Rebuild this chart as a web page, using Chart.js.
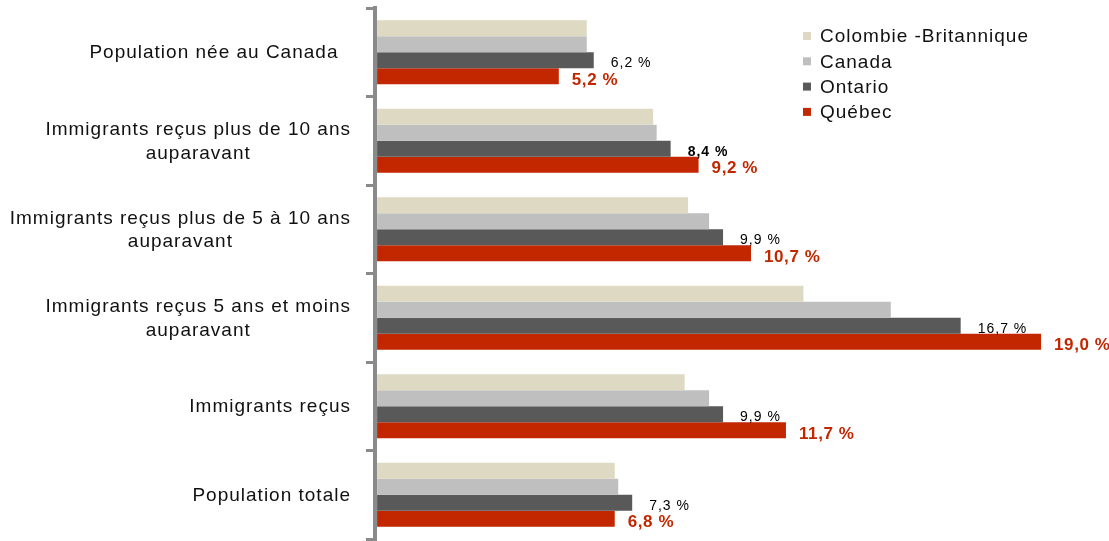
<!DOCTYPE html>
<html><head><meta charset="utf-8">
<script src="https://cdn.jsdelivr.net/npm/chart.js@4"></script>
<style>html,body{margin:0;padding:0;background:#fff}</style>
</head><body>
<canvas id="c" width="1109" height="541"></canvas>
<script>
const categories = [
  ["Population née au Canada  "],
  ["Immigrants reçus plus de 10 ans", "auparavant"],
  ["Immigrants reçus plus de 5 à 10 ans", "auparavant"],
  ["Immigrants reçus 5 ans et moins", "auparavant"],
  ["Immigrants reçus"],
  ["Population totale"]
];
const seriesNames = ["Colombie -Britannique", "Canada", "Ontario", "Québec"];
const colombieBritannique = [6.0, 7.9, 8.9, 12.2, 8.8, 6.8];
const canada = [6.0, 8.0, 9.5, 14.7, 9.5, 6.9];
const ontario = [6.2, 8.4, 9.9, 16.7, 9.9, 7.3];
const quebec = [5.2, 9.2, 10.7, 19.0, 11.7, 6.8];
const seriesColors = ['#DDD9C3', '#BFBFBF', '#595959', '#C22700'];
const ontarioBold = [false, true, false, false, false, false];

const FONT = '"Liberation Sans", Arial, sans-serif';

function fmt(v) { return v.toFixed(1).replace('.', ',') + ' %'; }

const categoryLabelsPlugin = {
  id: 'catLabels',
  afterDraw(chart) {
    const ctx = chart.ctx, y = chart.scales.y;
    ctx.save();
    ctx.font = '19px ' + FONT;
    ctx.letterSpacing = '1px';
    ctx.fillStyle = '#111';
    ctx.textAlign = 'center';
    ctx.textBaseline = 'middle';
    const right = y.right - 24;
    const lh = 23.3;
    chart.data.labels.forEach((lines, i) => {
      const cy = y.getPixelForValue(i);
      let w = 0;
      lines.forEach(l => { w = Math.max(w, ctx.measureText(l).width); });
      const cx = right - w / 2;
      lines.forEach((l, k) => {
        ctx.fillText(l, cx, cy + (k - (lines.length - 1) / 2) * lh + 1);
      });
    });
    ctx.restore();
  }
};

const valueLabelsPlugin = {
  id: 'valLabels',
  afterDatasetsDraw(chart) {
    const ctx = chart.ctx;
    ctx.save();
    ctx.textAlign = 'left';
    ctx.textBaseline = 'middle';
    [2, 3].forEach(di => {
      const meta = chart.getDatasetMeta(di);
      const ds = chart.data.datasets[di];
      meta.data.forEach((el, i) => {
        if (di === 2) {
          ctx.letterSpacing = '1px';
          ctx.font = (ontarioBold[i] ? 'bold ' : '') + '14px ' + FONT;
          ctx.fillStyle = '#000';
          ctx.fillText(fmt(ds.data[i]), el.x + 17, el.y + 3);
        } else {
          ctx.letterSpacing = '0.6px';
          ctx.font = 'bold 17px ' + FONT;
          ctx.fillStyle = seriesColors[3];
          ctx.fillText(fmt(ds.data[i]), el.x + 13, el.y + 4);
        }
      });
    });
    ctx.restore();
  }
};

const legendPlugin = {
  id: 'customLegend',
  afterDraw(chart) {
    const ctx = chart.ctx;
    ctx.save();
    ctx.font = '19px ' + FONT;
    ctx.letterSpacing = '1px';
    ctx.textAlign = 'left';
    ctx.textBaseline = 'middle';
    chart.data.datasets.forEach((ds, i) => {
      const yy = 36 + i * 25.3;
      ctx.fillStyle = ds.backgroundColor;
      ctx.fillRect(803, yy - 4, 8, 8);
      ctx.fillStyle = '#111';
      ctx.fillText(ds.label, 820, yy + 1);
    });
    ctx.restore();
  }
};

const seriesValues = [colombieBritannique, canada, ontario, quebec];

new Chart(document.getElementById('c'), {
  type: 'bar',
  data: {
    labels: categories,
    datasets: seriesNames.map((n, i) => ({
      label: n,
      data: seriesValues[i],
      backgroundColor: seriesColors[i],
      borderWidth: 0,
      categoryPercentage: 0.723,
      barPercentage: 1.0
    }))
  },
  options: {
    indexAxis: 'y',
    responsive: false,
    animation: false,
    devicePixelRatio: 1,
    layout: { padding: { top: 8, bottom: 2, left: 0, right: 33 } },
    plugins: { legend: { display: false }, tooltip: { enabled: false } },
    scales: {
      x: { display: false, min: -0.06, max: 20 },
      y: {
        position: 'left',
        grid: { display: true, drawOnChartArea: false, drawTicks: true, tickLength: 9, lineWidth: 3, color: '#8a8a8a', offset: true },
        border: { display: true, width: 4, color: '#8a8a8a' },
        ticks: { display: false },
        afterFit(s) { s.width = 375; }
      }
    }
  },
  plugins: [categoryLabelsPlugin, valueLabelsPlugin, legendPlugin]
});
</script>
</body></html>
